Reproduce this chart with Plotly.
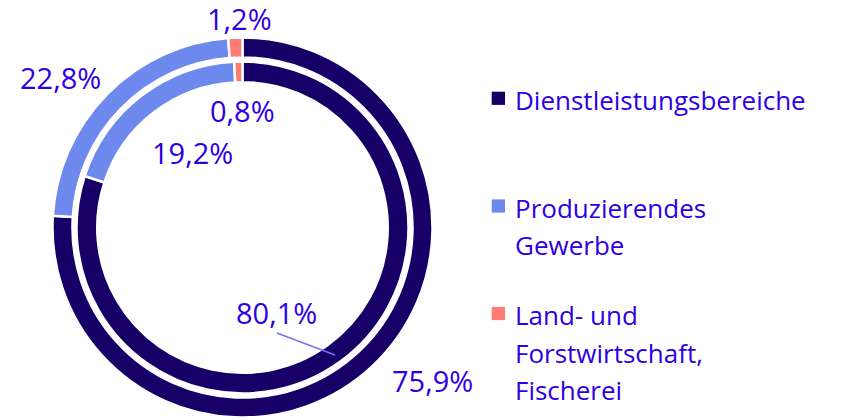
import plotly.graph_objects as go

# Anteile (%) - außen und innen
categories = ["Dienstleistungsbereiche", "Produzierendes Gewerbe", "Land- und Forstwirtschaft, Fischerei"]
outer_values = [75.9, 22.8, 1.2]
inner_values = [80.1, 19.2, 0.8]
legend_lines = [["Dienstleistungsbereiche"], ["Produzierendes", "Gewerbe"],
                ["Land- und", "Forstwirtschaft,", "Fischerei"]]

colors = ["#160068", "#6e89ee", "#ff7b73"]
text_color = "#2d00e6"
W, H = 841, 420
font = "Open Sans"


def px_x(x):
    return x / W


def px_y(y):
    return 1 - y / H


def fmt(v):
    return f"{v:.1f}".replace(".", ",") + "%"


cx, cy = 242.5, 227.5
fig = go.Figure()

# outer ring
r = 190
fig.add_trace(go.Pie(
    labels=categories, values=outer_values, hole=0.895, sort=False,
    direction="clockwise", rotation=0, textinfo="none", hoverinfo="label+value",
    marker=dict(colors=colors, line=dict(color="white", width=2.5)),
    domain=dict(x=[px_x(cx - r), px_x(cx + r)], y=[px_y(cy + r), px_y(cy - r)]),
    showlegend=False,
))
# inner ring
r = 166
fig.add_trace(go.Pie(
    labels=categories, values=inner_values, hole=0.875, sort=False,
    direction="clockwise", rotation=0, textinfo="none", hoverinfo="label+value",
    marker=dict(colors=colors, line=dict(color="white", width=2.5)),
    domain=dict(x=[px_x(cx - r), px_x(cx + r)], y=[px_y(cy + r), px_y(cy - r)]),
    showlegend=False,
))

# value labels (pixel positions)
outer_pos = [(432.5, 380.5), (60, 77.5), (239, 19)]
inner_pos = [(276.5, 312), (192, 152.5), (242.5, 111)]
for vals, pos in [(outer_values, outer_pos), (inner_values, inner_pos)]:
    for v, (x, y) in zip(vals, pos):
        fig.add_annotation(x=px_x(x), y=px_y(y), xref="paper", yref="paper",
                           text=fmt(v), showarrow=False, xanchor="center", yanchor="middle",
                           font=dict(size=29, color=text_color, family=font))

# leader line for 80,1%
fig.add_shape(type="line", xref="paper", yref="paper",
              x0=px_x(277), y0=px_y(333), x1=px_x(335), y1=px_y(355),
              line=dict(color="#7d6df2", width=1.5))

# legend
legend_top = [98.3, 206, 313.5]
for lines, col, y0 in zip(legend_lines, colors, legend_top):
    fig.add_shape(type="rect", xref="paper", yref="paper",
                  x0=px_x(491.7), x1=px_x(505), y0=px_y(y0 - 6.6), y1=px_y(y0 + 6.6),
                  fillcolor=col, line=dict(width=0))
    for i, line in enumerate(lines):
        fig.add_annotation(x=px_x(513), y=px_y(y0 + 1.5 + i * 37.5), xref="paper", yref="paper",
                           text=line, showarrow=False, xanchor="left", yanchor="middle",
                           font=dict(size=26, color=text_color, family=font))

fig.update_layout(
    width=W, height=H,
    margin=dict(t=0, l=0, r=0, b=0),
    paper_bgcolor="white", plot_bgcolor="white",
)

fig.write_html("out.html", config={"displayModeBar": False},
               post_script="document.body.style.margin='0';")
